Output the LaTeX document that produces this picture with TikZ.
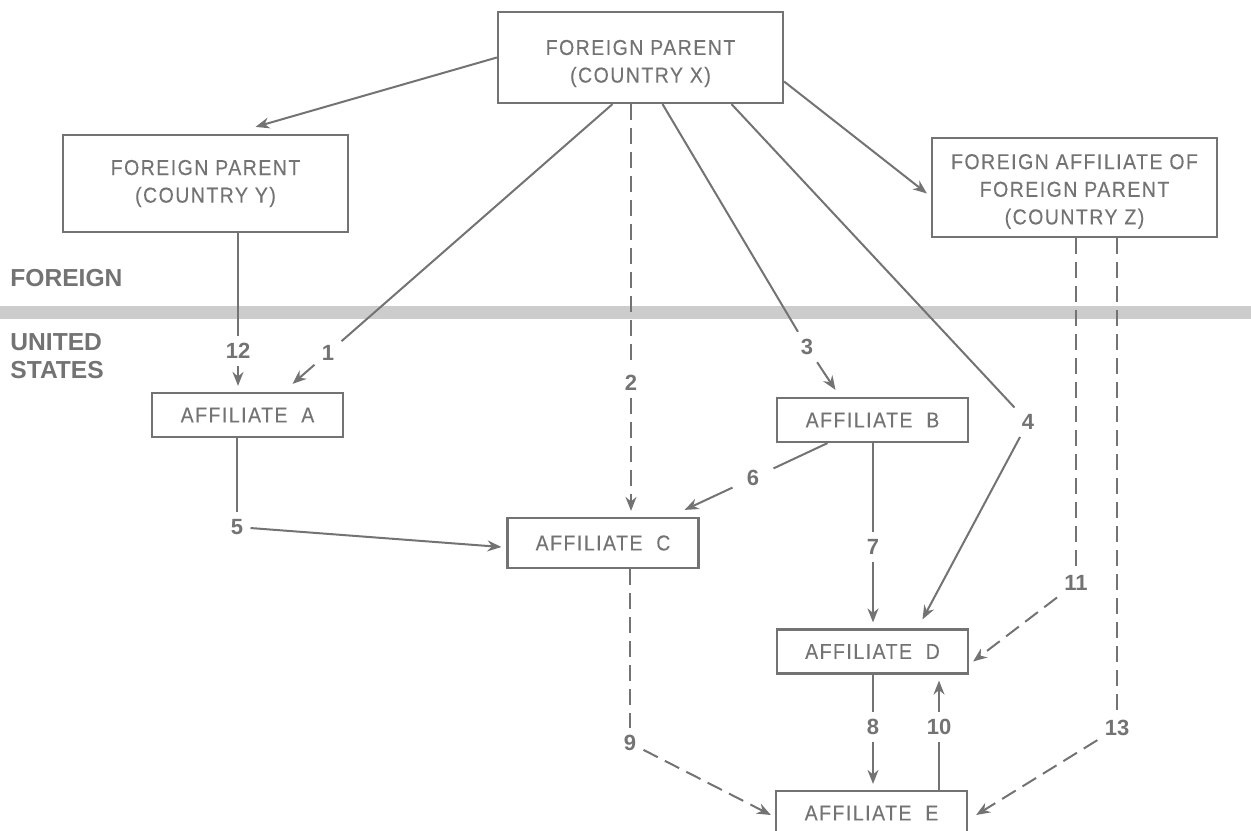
\documentclass[tikz,border=0pt]{standalone}
\usepackage{fontspec}
\setmainfont{Liberation Sans}
\newfontfamily\spacedsans[LetterSpace=7, FakeStretch=0.9, FakeBold=0.3]{Liberation Sans}
\usetikzlibrary{calc}
\usetikzlibrary{arrows.meta}
\definecolor{ink}{gray}{0.45}
\definecolor{band}{gray}{0.80}
\newcommand\coboxfont{\spacedsans\fontsize{10.8}{13.8}\selectfont}
\newcommand\flownumfont{\bfseries\fontsize{11}{13}\selectfont}
\newcommand\sidelblfont{\bfseries\fontsize{12.3}{14}\selectfont}
\tikzset{
    cobox/.style={ % Boxes for the parents and affiliates
        draw=ink,
        line width=1.1pt,
        text=ink,
        align=center,
        inner sep=0pt,
        font=\coboxfont
    },
    small/.style={minimum width=95.5pt, minimum height=22pt}, % US affiliates
    flownum/.style={ % Numbers that break the connectors
        text=ink,
        inner sep=3.5pt,
        font=\flownumfont
    },
    flow/.style={ % Solid connector
        draw=ink,
        line width=1pt
    },
    link/.style={ % Dashed connector
        flow,
        dash pattern=on 8pt off 4pt
    },
    tip/.style={-{Stealth[length=7pt,width=5.5pt]}},
    gap/.style={shorten >=3pt}
}

\begin{document}
\begin{tikzpicture}[x=0.5pt, y=-0.5pt]
    \useasboundingbox (0,0) rectangle (1251,830);
    % border between the two sides
    \fill[band] (0,306) rectangle (1251,319);
    \node[text=ink, font=\sidelblfont, anchor=west, inner sep=0pt] (foreign) at (10,278.5) {FOREIGN};
    \node[text=ink, font=\sidelblfont, anchor=west, inner sep=0pt, align=left] (us) at (10,356.5) {UNITED\\STATES};

    \node[cobox, minimum width=142.5pt, minimum height=45.5pt] (X) at (640.5,57.5) {\rule{0pt}{13.5pt}FOREIGN PARENT\\(COUNTRY X)};
    \node[cobox, minimum width=142.5pt, minimum height=48.5pt] (Y) at (205.5,183.5) {FOREIGN PARENT\\(COUNTRY Y)};
    \node[cobox, minimum width=142.5pt, minimum height=49.5pt] (Z) at (1074.5,187.5) {\rule{0pt}{11.5pt}FOREIGN AFFILIATE OF\\FOREIGN PARENT\\(COUNTRY Z)};
    \node[cobox, small] (A) at (247.5,415) {AFFILIATE~~A};
    \node[cobox, small] (B) at (872.5,420) {AFFILIATE~~B};
    \node[cobox, small, minimum height=25pt] (C) at (603,543) {AFFILIATE~~C};
    \node[cobox, small] (D) at (872.5,651.5) {AFFILIATE~~D};
    \node[cobox, small] (E) at (871.5,813) {AFFILIATE~~E};

    \node[flownum] (n1) at (328,353) {1};
    \node[flownum] (n2) at (631,383) {2};
    \node[flownum] (n3) at (807,347) {3};
    \node[flownum] (n4) at (1028,422) {4};
    \node[flownum] (n5) at (237,527) {5};
    \node[flownum, inner sep=7pt] (n6) at (753,478) {6};
    \node[flownum] (n7) at (873,547) {7};
    \node[flownum] (n8) at (873,727) {8};
    \node[flownum] (n9) at (630,743) {9};
    \node[flownum] (n10) at (939,727) {10};
    \node[flownum] (n11) at (1076,583) {11};
    \node[flownum] (n12) at (238,351) {12};
    \node[flownum] (n13) at (1117,728) {13};

    \draw[flow, tip] (X.west) -- ($(Y.north)+(50,-7)$);
    \draw[flow, tip] ($(X.east)+(0,24)$) -- ($(Z.west)+(-4,6)$);
    \draw[flow] ($(X.south)+(-28,0)$) -- (n1);
    \draw[flow, tip] (n1) -- ($(A.north)+(45,-8)$);
    \draw[link] (n2 |- X.south) -- (n2);
    \draw[link, tip, gap] (n2) -- (n2 |- C.north);
    \draw[flow] ($(X.south)+(22,0)$) -- (n3);
    \draw[flow, tip] (n3) -- ($(B.north)+(-37,-7)$);
    \draw[flow] ($(X.south)+(91,0)$) -- (n4);
    \draw[flow, tip] (n4) -- ($(D.north)+(50,-9)$);
    \draw[flow] (n5 |- A.south) -- (n5);
    \draw[flow, tip] (n5) -- ($(C.west)+(-5,4)$);
    \draw[flow] ($(B.south)+(-45,0)$) -- (n6);
    \draw[flow, tip] (n6) -- ($(C.north east)+(-15,-7)$);
    \draw[flow] (n7 |- B.south) -- (n7);
    \draw[flow, tip, gap] (n7) -- (n7 |- D.north);
    \draw[flow] (n8 |- D.south) -- (n8);
    \draw[flow, tip, gap] (n8) -- (n8 |- E.north);
    \draw[link] (n9 |- C.south) -- (n9);
    \draw[link, tip] (n9) -- ($(E.west)+(-4,2)$);
    \draw[flow] (n10 |- E.north) -- (n10);
    \draw[flow, tip, gap] (n10) -- (n10 |- D.south);
    \draw[link] (n11 |- Z.south) -- (n11);
    \draw[link, tip] (n11) -- ($(D.east)+(4,10)$);
    \draw[flow] (n12 |- Y.south) -- (n12);
    \draw[flow, tip, gap] (n12) -- (n12 |- A.north);
    \draw[link] (n13 |- Z.south) -- (n13);
    \draw[link, tip] (n13) -- ($(E.east)+(8,2)$);
\end{tikzpicture}
\end{document}
